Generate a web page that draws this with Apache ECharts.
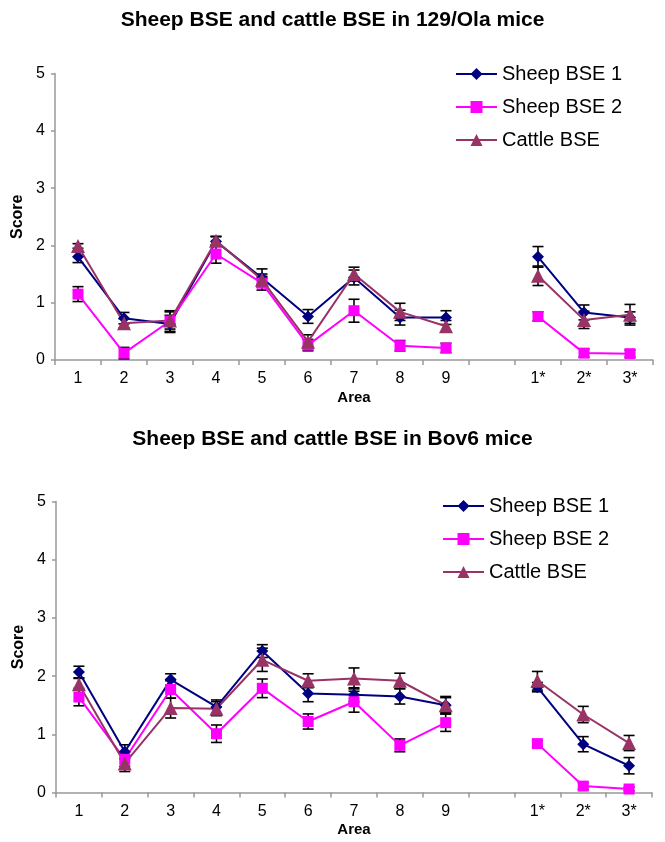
<!DOCTYPE html>
<html>
<head>
<meta charset="utf-8">
<script src="https://cdn.jsdelivr.net/npm/echarts@6/dist/echarts.min.js"></script>
<style>html,body{margin:0;padding:0;background:#fff;}#c{width:665px;height:842px;}</style>
</head>
<body>
<div id="c"></div>
<script>
const categories = ['1','2','3','4','5','6','7','8','9','','1*','2*','3*'];
const seriesNames = ['Sheep BSE 1','Sheep BSE 2','Cattle BSE'];
const titles = ['Sheep BSE and cattle BSE in 129/Ola mice','Sheep BSE and cattle BSE in Bov6 mice'];
const yTicks = [0,1,2,3,4,5];

// Top chart (129/Ola mice)
const olaSheep1 = [1.80, 0.73, 0.63, 2.07, 1.43, 0.76, 1.44, 0.74, 0.74, null, 1.80, 0.83, 0.74];
const olaSheep1Err = [0.10, 0.10, 0.15, 0.08, 0.16, 0.12, 0.13, 0.13, 0.12, null, 0.18, 0.13, 0.10];
const olaSheep2 = [1.15, 0.12, 0.68, 1.85, 1.34, 0.26, 0.86, 0.25, 0.21, null, 0.76, 0.12, 0.11];
const olaSheep2Err = [0.13, 0.10, 0.18, 0.16, 0.12, 0.10, 0.20, 0.09, 0.08, null, 0.08, 0.07, 0.06];
const olaCattle = [1.99, 0.64, 0.69, 2.08, 1.40, 0.32, 1.50, 0.84, 0.59, null, 1.47, 0.70, 0.79];
const olaCattleErr = [0.04, 0.08, 0.15, 0.08, 0.10, 0.12, 0.12, 0.15, 0.10, null, 0.17, 0.15, 0.18];

// Bottom chart (Bov6 mice)
const bovSheep1 = [2.07, 0.70, 1.94, 1.47, 2.43, 1.70, 1.68, 1.65, 1.50, null, 1.81, 0.83, 0.46];
const bovSheep1Err = [0.10, 0.12, 0.10, 0.12, 0.11, 0.14, 0.12, 0.13, 0.13, null, 0.08, 0.13, 0.14];
const bovSheep2 = [1.64, 0.57, 1.77, 1.01, 1.79, 1.22, 1.56, 0.81, 1.20, null, 0.84, 0.11, 0.06];
const bovSheep2Err = [0.15, 0.12, 0.15, 0.15, 0.16, 0.13, 0.18, 0.11, 0.15, null, 0.05, 0.06, 0.03];
const bovCattle = [1.86, 0.50, 1.45, 1.44, 2.28, 1.92, 1.96, 1.92, 1.50, null, 1.92, 1.34, 0.85];
const bovCattleErr = [0.10, 0.14, 0.17, 0.12, 0.20, 0.12, 0.18, 0.13, 0.15, null, 0.16, 0.14, 0.13];

const colors = ['#000080', '#FF00FF', '#993366'];
const symbols = ['diamond', 'rect', 'triangle'];
const symbolSizes = [[12,12], 11, 14];
const FONT = 'Arial, "Liberation Sans", sans-serif';

const groups = [
  [[olaSheep1, olaSheep1Err], [olaSheep2, olaSheep2Err], [olaCattle, olaCattleErr]],
  [[bovSheep1, bovSheep1Err], [bovSheep2, bovSheep2Err], [bovCattle, bovCattleErr]]
];

function errData(vals, errs) {
  const out = [];
  vals.forEach((v, i) => { if (v != null) out.push([i, v - errs[i], v + errs[i]]); });
  return out;
}

function renderErr(params, api) {
  const x = api.value(0);
  const lo = api.coord([x, api.value(1)]);
  const hi = api.coord([x, api.value(2)]);
  const hw = 5.5;
  const st = { stroke: '#000', lineWidth: 1.6 };
  return {
    type: 'group',
    children: [
      { type: 'line', shape: { x1: lo[0], y1: lo[1], x2: hi[0], y2: hi[1] }, style: st },
      { type: 'line', shape: { x1: lo[0] - hw, y1: lo[1], x2: lo[0] + hw, y2: lo[1] }, style: st },
      { type: 'line', shape: { x1: hi[0] - hw, y1: hi[1], x2: hi[0] + hw, y2: hi[1] }, style: st }
    ]
  };
}

const grids = [
  { left: 55, top: 73.5, width: 598, height: 286.5 },
  { left: 56, top: 501.5, width: 596, height: 291 }
];

const series = [];
groups.forEach((g, gi) => {
  g.forEach((pair, si) => {
    series.push({
      type: 'custom', xAxisIndex: gi, yAxisIndex: gi, z: 1,
      renderItem: renderErr, data: errData(pair[0], pair[1]), silent: true
    });
  });
  g.forEach((pair, si) => {
    series.push({
      name: seriesNames[si], type: 'line', xAxisIndex: gi, yAxisIndex: gi, z: 3,
      data: pair[0], connectNulls: false,
      symbol: symbols[si], symbolSize: symbolSizes[si],
      lineStyle: { color: colors[si], width: 2 },
      itemStyle: { color: colors[si] },
      emphasis: { disabled: true }
    });
  });
});

function xAxis(gi) {
  return {
    type: 'category', gridIndex: gi, data: categories,
    name: 'Area', nameLocation: 'middle', nameGap: 30,
    nameTextStyle: { fontFamily: FONT, fontWeight: 'bold', fontSize: 15, color: '#000' },
    axisLine: { lineStyle: { color: '#999', width: 1.5 } },
    axisTick: { show: true, length: 5, alignWithLabel: false, lineStyle: { color: '#999', width: 1.5 } },
    axisLabel: { fontFamily: FONT, fontSize: 16, color: '#000', margin: 11, interval: 0 }
  };
}
function yAxis(gi) {
  return {
    type: 'value', gridIndex: gi, min: yTicks[0], max: yTicks[yTicks.length - 1], interval: 1,
    name: 'Score', nameLocation: 'middle', nameGap: 26,
    nameTextStyle: { fontFamily: FONT, fontWeight: 'bold', fontSize: 16, color: '#000' },
    axisLine: { show: true, lineStyle: { color: '#999', width: 1.5 } },
    axisTick: { show: true, length: 4, lineStyle: { color: '#999', width: 1.5 } },
    axisLabel: { fontFamily: FONT, fontSize: 16, color: '#000', margin: 10 },
    splitLine: { show: false }
  };
}

const legendBase = {
  orient: 'vertical', itemWidth: 41, itemHeight: 15, itemGap: 13, data: seriesNames,
  textStyle: { fontFamily: FONT, fontSize: 20, color: '#000', lineHeight: 20 },
  selectedMode: false
};

const option = {
  animation: false,
  backgroundColor: '#fff',
  title: [
    { text: titles[0], left: 'center', top: 5, textStyle: { fontFamily: FONT, fontWeight: 'bold', fontSize: 21, color: '#000' } },
    { text: titles[1], left: 'center', top: 424, textStyle: { fontFamily: FONT, fontWeight: 'bold', fontSize: 21, color: '#000' } }
  ],
  legend: [
    Object.assign({}, legendBase, { left: 450, top: 59 }),
    Object.assign({}, legendBase, { left: 437, top: 491 })
  ],
  grid: grids,
  xAxis: [xAxis(0), xAxis(1)],
  yAxis: [yAxis(0), yAxis(1)],
  series: series
};

const chart = echarts.init(document.getElementById('c'), null, { renderer: 'canvas' });
chart.setOption(option);
</script>
</body>
</html>
